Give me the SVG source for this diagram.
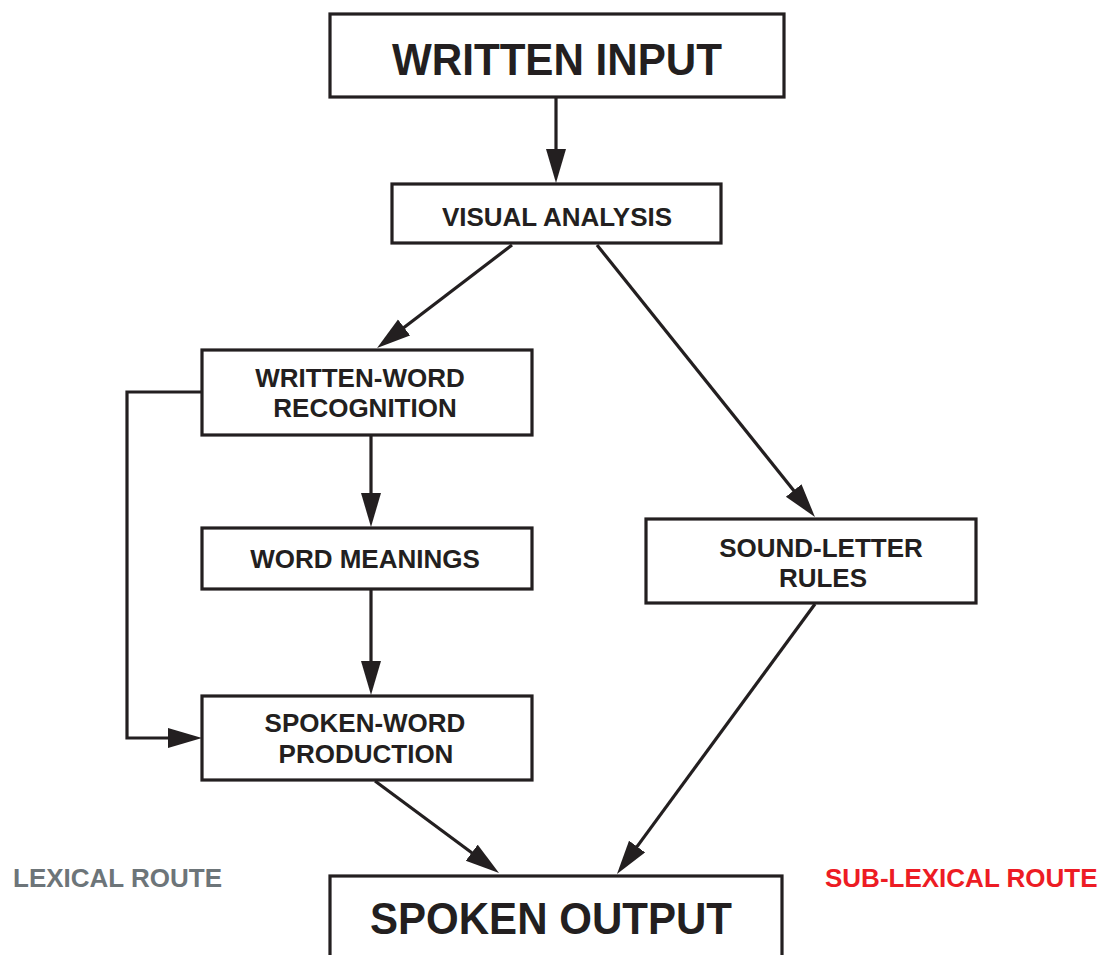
<svg xmlns="http://www.w3.org/2000/svg" width="1104" height="955" viewBox="0 0 1104 955">
  <style>
    .box { fill: #ffffff; stroke: #231f20; stroke-width: 3.2; }
    .lbl { font-family: "Liberation Sans", Arial, sans-serif; font-weight: bold; font-size: 26px; fill: #231f20; text-anchor: middle; }
    .big { font-size: 45px; }
    .edge { fill: none; stroke: #231f20; stroke-width: 3.2; marker-end: url(#arr); }
    .route { font-family: "Liberation Sans", Arial, sans-serif; font-weight: bold; font-size: 26px; }
  </style>
  <defs>
    <marker id="arr" markerUnits="userSpaceOnUse" markerWidth="36" markerHeight="22" refX="24" refY="10" orient="auto" viewBox="0 0 36 22">
      <path d="M0,0 L34,10 L0,20 z" fill="#231f20"/>
    </marker>
  </defs>
  <rect width="1104" height="955" fill="#ffffff"/>

  <g id="connectors">
    <path class="edge" d="M556,98 L556,173"/>
    <path class="edge" d="M512,245 L385,342"/>
    <path class="edge" d="M597,245 L808.7,509.2"/>
    <path class="edge" d="M371,436 L371,517"/>
    <path class="edge" d="M371,590 L371,685"/>
    <path class="edge" d="M202,392 L127,392 L127,738 L192,738"/>
    <path class="edge" d="M375,781 L491,867"/>
    <path class="edge" d="M815,604 L622.9,865.9"/>
  </g>

  <g id="written-input">
    <rect class="box" x="330" y="14" width="454" height="83"/>
    <text class="lbl big" x="557" y="75" textLength="330" lengthAdjust="spacingAndGlyphs">WRITTEN INPUT</text>
  </g>

  <g id="visual-analysis">
    <rect class="box" x="392" y="184" width="329" height="59"/>
    <text class="lbl" x="557" y="226">VISUAL ANALYSIS</text>
  </g>

  <g id="written-word-recognition">
    <rect class="box" x="202" y="350" width="330" height="85"/>
    <text class="lbl" x="360" y="387">WRITTEN-WORD</text>
    <text class="lbl" x="365" y="417">RECOGNITION</text>
  </g>

  <g id="word-meanings">
    <rect class="box" x="202" y="528" width="330" height="61"/>
    <text class="lbl" x="365" y="568">WORD MEANINGS</text>
  </g>

  <g id="spoken-word-production">
    <rect class="box" x="202" y="696" width="330" height="84"/>
    <text class="lbl" x="365" y="732">SPOKEN-WORD</text>
    <text class="lbl" x="366" y="763">PRODUCTION</text>
  </g>

  <g id="sound-letter-rules">
    <rect class="box" x="646" y="519" width="330" height="84"/>
    <text class="lbl" x="821" y="557">SOUND-LETTER</text>
    <text class="lbl" x="823" y="587">RULES</text>
  </g>

  <g id="spoken-output">
    <rect class="box" x="330" y="876" width="452" height="100"/>
    <text class="lbl big" x="551" y="934" textLength="362" lengthAdjust="spacingAndGlyphs">SPOKEN OUTPUT</text>
  </g>

  <g id="route-labels">
    <text class="route" x="13" y="887" fill="#6d7579">LEXICAL ROUTE</text>
    <text class="route" x="825" y="887" fill="#ed1c24">SUB-LEXICAL ROUTE</text>
  </g>
</svg>
